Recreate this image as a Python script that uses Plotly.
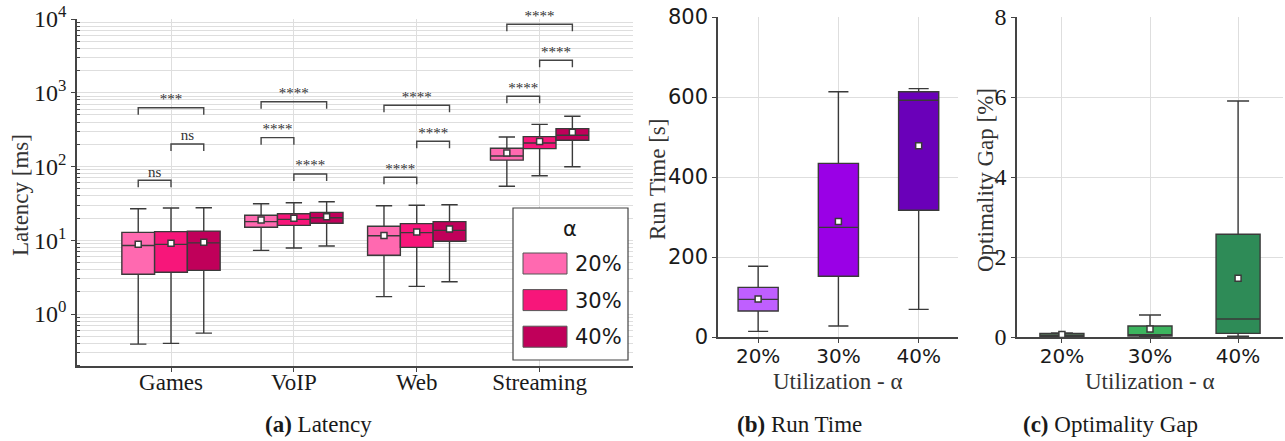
import plotly.graph_objects as go

# ---------------- data ----------------
apps = ["Games", "VoIP", "Web", "Streaming"]
alphas = ["20%", "30%", "40%"]

# Latency [ms] box statistics, one row per alpha, columns follow `apps`
lat_lower = [[0.39, 7.3, 1.72, 54], [0.40, 7.85, 2.37, 75], [0.55, 8.36, 2.74, 99]]
lat_q1 = [[3.46, 15.0, 6.25, 122], [3.68, 15.9, 8.0, 175], [3.91, 17.0, 9.7, 227]]
lat_median = [[8.5, 17.9, 11.5, 139], [8.8, 19.2, 12.7, 208], [9.2, 20.2, 13.6, 265]]
lat_q3 = [[12.8, 21.8, 15.5, 177], [13.1, 22.9, 16.8, 254], [13.3, 23.9, 17.9, 326]]
lat_upper = [[26.8, 31.3, 29.4, 251], [27.4, 32.3, 29.8, 373], [27.6, 33.3, 30.3, 480]]
lat_mean = [[8.8, 18.8, 11.6, 152], [9.1, 19.8, 12.9, 219], [9.4, 20.9, 14.2, 291]]

# Significance brackets: (app index, alpha i, alpha j, bracket level [ms], label)
sig_tests = [
    (0, 0, 1, 65, "ns"), (0, 1, 2, 202, "ns"), (0, 0, 2, 627, "***"),
    (1, 0, 1, 246, "****"), (1, 1, 2, 79, "****"), (1, 0, 2, 756, "****"),
    (2, 0, 1, 71.4, "****"), (2, 1, 2, 220, "****"), (2, 0, 2, 676, "****"),
    (3, 0, 1, 895, "****"), (3, 1, 2, 2754, "****"), (3, 0, 2, 8490, "****"),
]

# Run time [s] per alpha
rt_lower = [14, 27.5, 69]
rt_q1 = [65, 152, 317]
rt_median = [94, 274, 592]
rt_q3 = [124, 434, 613]
rt_upper = [177, 613, 621]
rt_mean = [95, 289, 478]

# Optimality gap [%] per alpha
gap_lower = [0.0, 0.0, 0.02]
gap_q1 = [0.02, 0.025, 0.09]
gap_median = [0.05, 0.06, 0.45]
gap_q3 = [0.09, 0.275, 2.57]
gap_upper = [0.10, 0.55, 5.9]
gap_mean = [0.06, 0.20, 1.47]

# ---------------- style ----------------
W, H = 1285, 441
SERIF = "Liberation Serif"
SANS = "DejaVu Sans"
TXT = "#1a1a1a"
EDGE = "#3a3a3a"
GRID = "#dedede"
lat_colors = ["#ff69b0", "#f7167a", "#c0005a"]
rt_colors = ["#bf5fff", "#9a00e6", "#6a00b9"]
gap_colors = ["#8fdc9a", "#3cb45e", "#2e8b57"]

GROUP_W = 0.8
BOX_W = GROUP_W / len(alphas)


def px(x):
    return x / W


def py(y):
    return 1 - y / H


fig = go.Figure()


def add_box(xs, lo, q1, med, q3, hi, color, width, xa, ya):
    fig.add_trace(go.Box(
        x=xs, q1=q1, median=med, q3=q3, lowerfence=lo, upperfence=hi,
        width=width, fillcolor=color, line=dict(color=EDGE, width=1.4),
        whiskerwidth=0.5, boxpoints=False, xaxis=xa, yaxis=ya,
        hoverinfo="skip", showlegend=False,
    ))


def add_mean(xs, ys, xa, ya):
    fig.add_trace(go.Scatter(
        x=xs, y=ys, mode="markers", xaxis=xa, yaxis=ya, showlegend=False,
        marker=dict(symbol="square", size=6, color="white",
                    line=dict(color=EDGE, width=1.5)),
        hoverinfo="skip",
    ))


# (a) latency, grouped by application
offsets = [(k - (len(alphas) - 1) / 2) * BOX_W for k in range(len(alphas))]
for k in range(len(alphas)):
    xs = [i + offsets[k] for i in range(len(apps))]
    add_box(xs, lat_lower[k], lat_q1[k], lat_median[k], lat_q3[k], lat_upper[k],
            lat_colors[k], BOX_W, "x", "y")
for k in range(len(alphas)):
    xs = [i + offsets[k] for i in range(len(apps))]
    add_mean(xs, lat_mean[k], "x", "y")

# significance brackets
LEG = 10 ** (7 / 73.75)
for app_i, a, b, level, label in sig_tests:
    x0 = app_i + offsets[a]
    x1 = app_i + offsets[b]
    fig.add_trace(go.Scatter(
        x=[x0, x0, x1, x1], y=[level / LEG, level, level, level / LEG],
        mode="lines", line=dict(color="#444444", width=1.4),
        xaxis="x", yaxis="y", showlegend=False, hoverinfo="skip",
    ))
    fig.add_trace(go.Scatter(
        x=[(x0 + x1) / 2], y=[level], mode="text", text=[label],
        textposition="top center", cliponaxis=False,
        textfont=dict(family=SERIF, size=15, color="#333333"),
        xaxis="x", yaxis="y", showlegend=False, hoverinfo="skip",
    ))

# (b) run time
for k in range(len(alphas)):
    add_box([k], [rt_lower[k]], [rt_q1[k]], [rt_median[k]], [rt_q3[k]],
            [rt_upper[k]], rt_colors[k], 0.5, "x2", "y2")
add_mean(list(range(len(alphas))), rt_mean, "x2", "y2")

# (c) optimality gap
for k in range(len(alphas)):
    add_box([k], [gap_lower[k]], [gap_q1[k]], [gap_median[k]], [gap_q3[k]],
            [gap_upper[k]], gap_colors[k], 0.5, "x3", "y3")
add_mean(list(range(len(alphas))), gap_mean, "x3", "y3")

# ---------------- axes ----------------
axis_common = dict(showline=True, linecolor="#444444", linewidth=1.5,
                   showgrid=True, gridcolor=GRID, gridwidth=1, zeroline=False,
                   ticks="outside", ticklen=4, tickcolor="#444444", mirror=False,
                   automargin=False)

decades = list(range(0, 5))
minor_vals = [m * 10 ** e for e in range(-1, 4) for m in range(2, 10)]

fig.update_layout(
    width=W, height=H, margin=dict(l=0, r=0, t=0, b=0, autoexpand=False),
    paper_bgcolor="white", plot_bgcolor="white", boxmode="overlay",
    showlegend=False,
    xaxis=dict(domain=[px(77), px(633)], range=[-0.765, 3.76],
               tickmode="array", tickvals=list(range(len(apps))), ticktext=apps,
               tickfont=dict(family=SERIF, size=23, color=TXT), anchor="y",
               ticklabelstandoff=-9, **axis_common),
    yaxis=dict(domain=[py(366), py(19)], type="log", range=[-0.705, 4],
               tickmode="array", tickvals=[10 ** e for e in decades],
               ticktext=[f"10<sup>{e}</sup>" for e in decades],
               tickfont=dict(family=SERIF, size=24, color=TXT), anchor="x",
               minor=dict(tickmode="array", tickvals=minor_vals, showgrid=True,
                          gridcolor=GRID, ticks="inside", ticklen=3,
                          tickcolor="#444444"),
               **axis_common),
    xaxis2=dict(domain=[px(718), px(958)], range=[-0.5, 2.49],
                tickmode="array", tickvals=[0, 1, 2], ticktext=alphas,
                tickfont=dict(family=SANS, size=20, color=TXT), anchor="y2",
                ticklabelstandoff=-4, **axis_common),
    yaxis2=dict(domain=[py(337), py(17)], range=[0, 800], tickmode="array",
                tickvals=[0, 200, 400, 600, 800],
                tickfont=dict(family=SANS, size=21, color=TXT), anchor="x2",
                **axis_common),
    xaxis3=dict(domain=[px(1017), px(1283)], range=[-0.51, 2.51],
                tickmode="array", tickvals=[0, 1, 2], ticktext=alphas,
                tickfont=dict(family=SANS, size=20, color=TXT), anchor="y3",
                ticklabelstandoff=-4, **axis_common),
    yaxis3=dict(domain=[py(337), py(17)], range=[0, 8], tickmode="array",
                tickvals=[0, 2, 4, 6, 8],
                tickfont=dict(family=SERIF, size=24, color=TXT), anchor="x3",
                **axis_common),
)

# ---------------- titles & captions ----------------
ann = []


def label(text, x, y, size=23, angle=0, family=SERIF, color="#333333"):
    ann.append(dict(text=text, x=px(x), y=py(y), xref="paper", yref="paper",
                    showarrow=False, textangle=angle, xanchor="center",
                    yanchor="middle", font=dict(family=family, size=size,
                                                color=color)))


label("Latency [ms]", 20, 195, angle=-90)
label("Run Time [s]", 657, 180, angle=-90)
label("Optimality Gap [%]", 985, 180, angle=-90)
label("Utilization - α", 838, 381)
label("Utilization - α", 1150, 381)
label("<b>(a)</b> Latency", 318, 424, size=23, color=TXT)
label("<b>(b)</b> Run Time", 799, 424, size=23, color=TXT)
label("<b>(c)</b> Optimality Gap", 1110, 424, size=23, color=TXT)

# ---------------- legend for (a) ----------------
shapes = [dict(type="rect", xref="paper", yref="paper",
               x0=px(513), x1=px(628), y0=py(360), y1=py(208),
               line=dict(color="#444444", width=1.2), fillcolor="white",
               layer="above")]
label("α", 570, 229, size=21, family=SANS, color=TXT)
for k, name in enumerate(alphas):
    top = 253 + k * 36.6
    shapes.append(dict(type="rect", xref="paper", yref="paper",
                       x0=px(523), x1=px(567), y0=py(top + 21), y1=py(top),
                       fillcolor=lat_colors[k], line=dict(color="#555555", width=1),
                       layer="above"))
    ann.append(dict(text=name, x=px(573), y=py(top + 11), xref="paper",
                    yref="paper", showarrow=False, xanchor="left",
                    yanchor="middle",
                    font=dict(family=SANS, size=21, color=TXT)))

fig.update_layout(annotations=ann, shapes=shapes)

fig.write_html("out.html")
